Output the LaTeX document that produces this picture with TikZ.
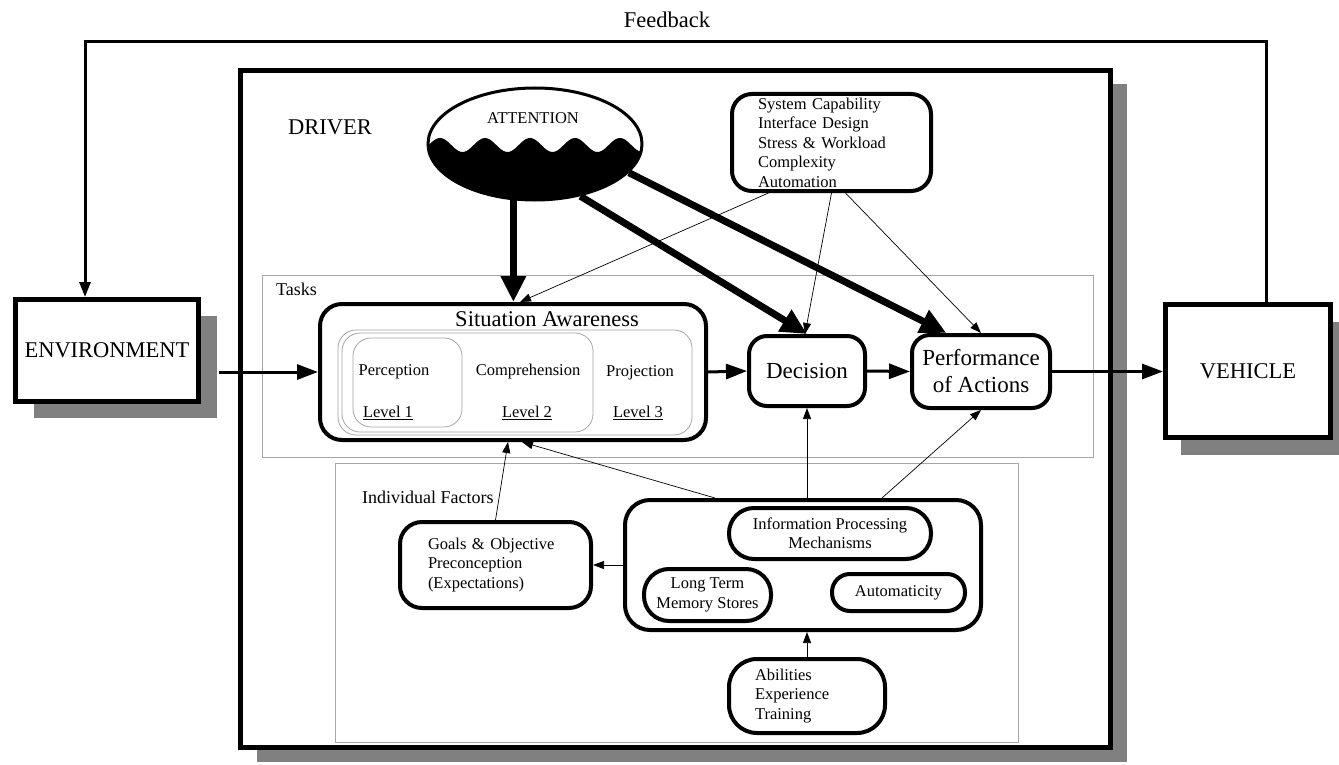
\documentclass[tikz,border=0pt]{standalone}
\usepackage{fontspec}
\setmainfont{Liberation Serif}
\usetikzlibrary{arrows.meta,calc,shapes.geometric,shadows}
\newcommand\fsS{\fontsize{16.5}{19.5}\selectfont}
\newcommand\fsT{\fontsize{18}{21}\selectfont}
\newcommand\fsL{\fontsize{22.5}{27}\selectfont}
\begin{document}
\begin{tikzpicture}[x=1pt,y=-1pt,
  box/.style={draw, line width=5pt, fill=white, inner sep=0pt},
  shad/.style 2 args={drop shadow={shadow xshift=#1pt, shadow yshift=-#2pt, fill=black!50, opacity=1}},
  rbox/.style={draw, line width=4pt, rounded corners=20pt, inner sep=0pt},
  frame/.style={draw=gray!70, line width=1pt},
  subfr/.style={draw=gray!70, line width=0.8pt, rounded corners=18pt},
  lbl/.style={inner sep=0pt, font=\fsS},
  attarrow/.style={line width=7pt, -{Triangle[length=26pt,width=24pt]}},
  medarrow/.style={line width=3pt, -{Triangle[length=21pt,width=15pt]}},
  thinarrow/.style={line width=0.7pt, -{Triangle[length=11pt,width=8pt]}},
]
\useasboundingbox (0,0) rectangle (1339,765);

% driver frame
\node[box, shad={16}{14}, minimum width=870pt, minimum height=677pt] (drv) at (675.5,409) {};
\node[lbl, font=\fsL] (drvl) at (330,127) {DRIVER};

% environment and vehicle
\node[box, shad={18}{16}, minimum width=183pt, minimum height=102pt, font=\fsL] (env) at (107,350.5) {ENVIRONMENT};
\node[box, shad={15}{17}, minimum width=165pt, minimum height=133pt, font=\fsL] (veh) at (1248,371) {VEHICLE};

% frames
\draw[frame] (262,275) rectangle (1093,457);
\node[lbl, font=\fsT, anchor=west] (tasksl) at (276,289) {Tasks};
\draw[frame] (335,463) rectangle (1018,742);
\node[lbl, font=\fsT, anchor=west] (ifl) at (362,497) {Individual Factors};

% attention
\begin{scope}
\clip (535,144) ellipse [x radius=107, y radius=56];
\fill plot[domain=420:650, samples=120] (\x,{145-7*cos(8*(\x-440))}) -- (650,205) -- (420,205) -- cycle;
\end{scope}
\node[draw, ellipse, line width=3pt, minimum width=214pt, minimum height=112pt, inner sep=0pt] (att) at (535,144) {};
\node[lbl, font=\fontsize{16.5}{19}\selectfont] (attl) at (533,118) {ATTENTION};

% system capability
\node[rbox, minimum width=199pt, minimum height=97pt, text width=147pt, align=left, font=\fsS] (sys) at (831.5,142.5)
 {System Capability\\Interface Design\\Stress \& Workload\\Complexity\\Automation};

% situation awareness
\node[rbox, rounded corners=22pt, minimum width=386pt, minimum height=136pt] (sa) at (513,372) {};
\node[lbl, font=\fsL] (sat) at (547,319) {Situation Awareness};
\draw[subfr] (338,330) rectangle (692,435);
\draw[subfr] (342,333) rectangle (593,432);
\draw[subfr] (353,338) rectangle (462,427);
\node[lbl] (per) at (394,372) {Perception};
\node[lbl] (com) at (528,372) {Comprehension};
\node[lbl] (pro) at (640,373) {Projection};
\node[lbl] (l1) at (388,413) {\underline{Level 1}};
\node[lbl] (l2) at (527,413) {\underline{Level 2}};
\node[lbl] (l3) at (638,413) {\underline{Level 3}};

% decision, performance
\node[rbox, rounded corners=18pt, minimum width=116pt, minimum height=70pt, font=\fontsize{23}{27}\selectfont] (dec) at (807,371) {Decision};
\node[rbox, rounded corners=18pt, minimum width=138pt, minimum height=73pt, align=center, font=\fontsize{23}{27}\selectfont] (perf) at (981,371.5) {Performance\\of Actions};

% individual factors
\node[rbox, rounded corners=25pt, minimum width=356pt, minimum height=130pt] (ifb) at (803,565) {};
\node[rbox, rounded corners=25pt, minimum width=202pt, minimum height=51pt, align=center, font=\fsS] (ipm) at (830,533.5) {Information Processing\\Mechanisms};
\node[rbox, rounded corners=25pt, minimum width=127pt, minimum height=52pt, align=center, font=\fsS] (ltm) at (707.5,595) {Long Term\\Memory Stores};
\node[rbox, rounded corners=18pt, minimum width=133pt, minimum height=37pt, font=\fsS] (aut) at (898.5,592.5) {Automaticity};
\node[rbox, rounded corners=28pt, minimum width=156pt, minimum height=74pt, text width=104pt, align=left, font=\fsS] (abil) at (807,696) {Abilities\\Experience\\Training};
\node[rbox, rounded corners=22pt, minimum width=191pt, minimum height=86pt, text width=135pt, align=left, font=\fsS] (goals) at (495.5,565) {Goals \& Objective\\Preconception\\(Expectations)};

% main flow
\draw[medarrow, shorten <=18pt] (env.east |- sa.west) -- (sa.west);
\draw[medarrow] (sa.east) -- (dec.west);
\draw[medarrow] (dec.east) -- (perf.west);
\draw[medarrow] (perf.east) -- (veh.west |- perf.east);

% feedback
\coordinate (fbA) at ($(veh.north)+(18,0)$);
\coordinate (fbB) at ($(env.north)+(-22,0)$);
\coordinate (fbY) at (0,42);
\draw[line width=3pt, -{Triangle[length=15pt,width=11pt]}] (fbA) -- (fbA |- fbY) -- (fbB |- fbY) -- (fbB);
\node[lbl, font=\fsL] (fbl) at (667,20) {Feedback};

% attention arrows
\draw[attarrow] (att.249) -- (att.249 |- sa.north);
\draw[attarrow] (att.311) -- (dec.north);
\draw[attarrow] (att.343) -- (perf.132);

% system capability arrows
\draw[thinarrow] ($(sys.south)+(-63,0)$) -- ($(sa.north)+(7,0)$);
\draw[thinarrow] (sys.south) -- ($(dec.north)+(-2,0)$);
\draw[thinarrow] ($(sys.south)+(14,0)$) -- (perf.north);

% individual factors arrows
\draw[thinarrow] (ifb.west) -- (goals.east);
\draw[thinarrow] (abil.north) -- (abil.north |- ifb.south);
\draw[thinarrow] (goals.north) -- ($(sa.south)+(-5,0)$);
\draw[thinarrow] ($(ifb.north)+(-88,0)$) -- ($(sa.south)+(9,0)$);
\draw[thinarrow] (dec.south |- ifb.north) -- (dec.south);
\draw[thinarrow] ($(ifb.north)+(79,0)$) -- (perf.south);
\end{tikzpicture}
\end{document}
